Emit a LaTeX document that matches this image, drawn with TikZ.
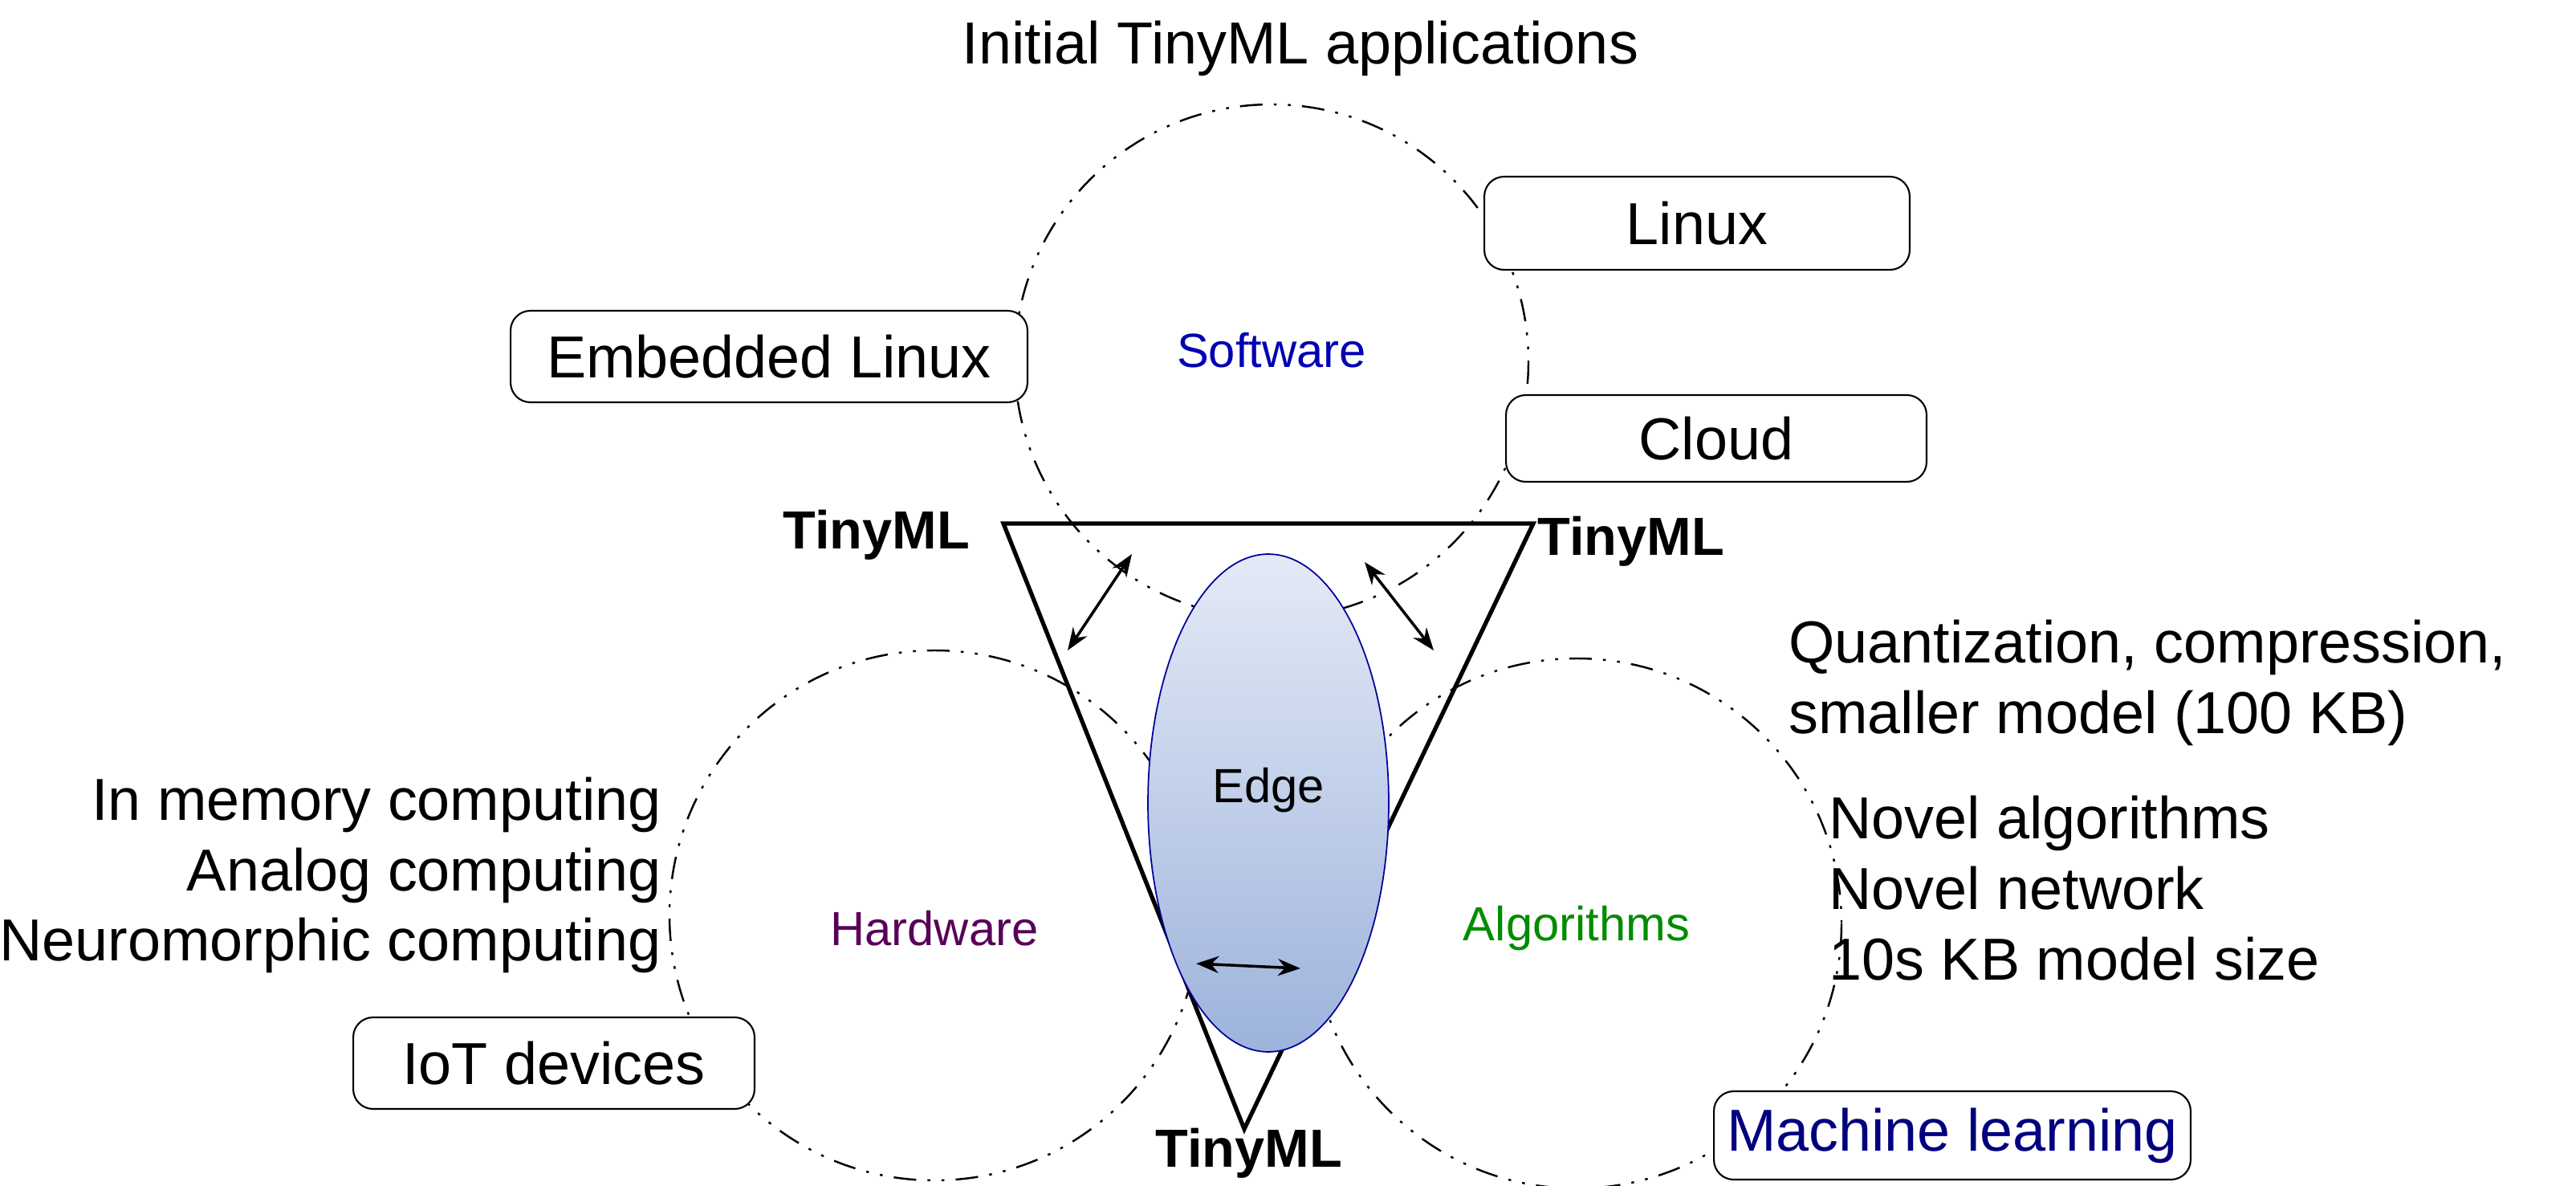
\documentclass[tikz,border=0pt]{standalone}
\usepackage{fontspec}
\setmainfont{Liberation Sans}
\usetikzlibrary{arrows.meta,shapes.geometric}
\definecolor{etop}{HTML}{E4EAF6}
\definecolor{ebot}{HTML}{9DB3DC}
\begin{document}
\begin{tikzpicture}[x=0.02cm,y=-0.02cm,
  big/.style={font=\fontsize{21}{25}\selectfont},
  small/.style={font=\fontsize{17}{20}\selectfont},
  tml/.style={font=\bfseries\fontsize{19}{22}\selectfont},
  box/.style={draw,fill=white,rounded corners=7pt,line width=0.6pt,big,inner sep=0pt},
  dd/.style={line width=0.7pt,dash pattern=on 8pt off 4pt on 1pt off 4pt on 1pt off 4pt},
  arr/.style={{Stealth[length=8pt]}-{Stealth[length=8pt]},line width=1pt}]
\useasboundingbox (0,0) rectangle (1604.5,738.5);
\draw[dd] (792,225) circle[radius=160];
\draw[dd] (582,570) circle[radius=165];
\draw[dd] (982,575) circle[radius=165];
\coordinate (tl) at (625,326); \coordinate (tr) at (955,326); \coordinate (tb) at (775,703);
\draw[line width=1.5pt,line join=miter] (tl) -- (tr) -- (tb) -- cycle;
\node[ellipse,draw=blue!60!black,line width=0.5pt,minimum width=3cm,minimum height=6.2cm,
  top color=etop,bottom color=ebot,inner sep=0] (edge) at (790,500) {};
\node[small] at (790,492) {Edge};
\coordinate (a1) at (665,405); \coordinate (a2) at (705,345);
\coordinate (b1) at (850,350); \coordinate (b2) at (893,405);
\coordinate (c1) at (745,600); \coordinate (c2) at (810,603);
\draw[arr] (a1) -- (a2); \draw[arr] (b1) -- (b2); \draw[arr] (c1) -- (c2);
\node[small,text=blue!70!black] (sw) at (792,218) {Software};
\node[small,text=red!50!blue!70!black] (hw) at (582,578) {Hardware};
\node[small,text=green!55!black] (al) at (982,578) {Algorithms};
\node[big] (init) at (810,30) {Initial TinyML applications};
\node[box,minimum width=5.3cm,minimum height=1.16cm] (lin) at (1057,139) {Linux};
\node[box,minimum width=6.44cm,minimum height=1.14cm] (emb) at (479,222) {Embedded Linux};
\node[box,minimum width=5.24cm,minimum height=1.08cm] (cl) at (1069,273) {Cloud};
\node[box,minimum width=5.0cm,minimum height=1.14cm] (iot) at (345,662) {IoT devices};
\node[box,minimum width=5.94cm,minimum height=1.1cm,text=blue!50!black] (ml) at (1216,707) {Machine learning};
\node[tml] (t1) at (546,333) {TinyML};
\node[tml] (t2) at (1016,337) {TinyML};
\node[tml] (t3) at (778,718) {TinyML};
\node[big,align=left,anchor=west] (q) at (1108,425) {Quantization, compression,\\smaller model (100 KB)};
\node[big,align=left,anchor=west] (na) at (1133,553) {Novel algorithms\\Novel network\\10s KB model size};
\node[big,align=right,anchor=east] (hl) at (418,545) {In memory computing\\Analog computing\\Neuromorphic computing};
\end{tikzpicture}
\end{document}
